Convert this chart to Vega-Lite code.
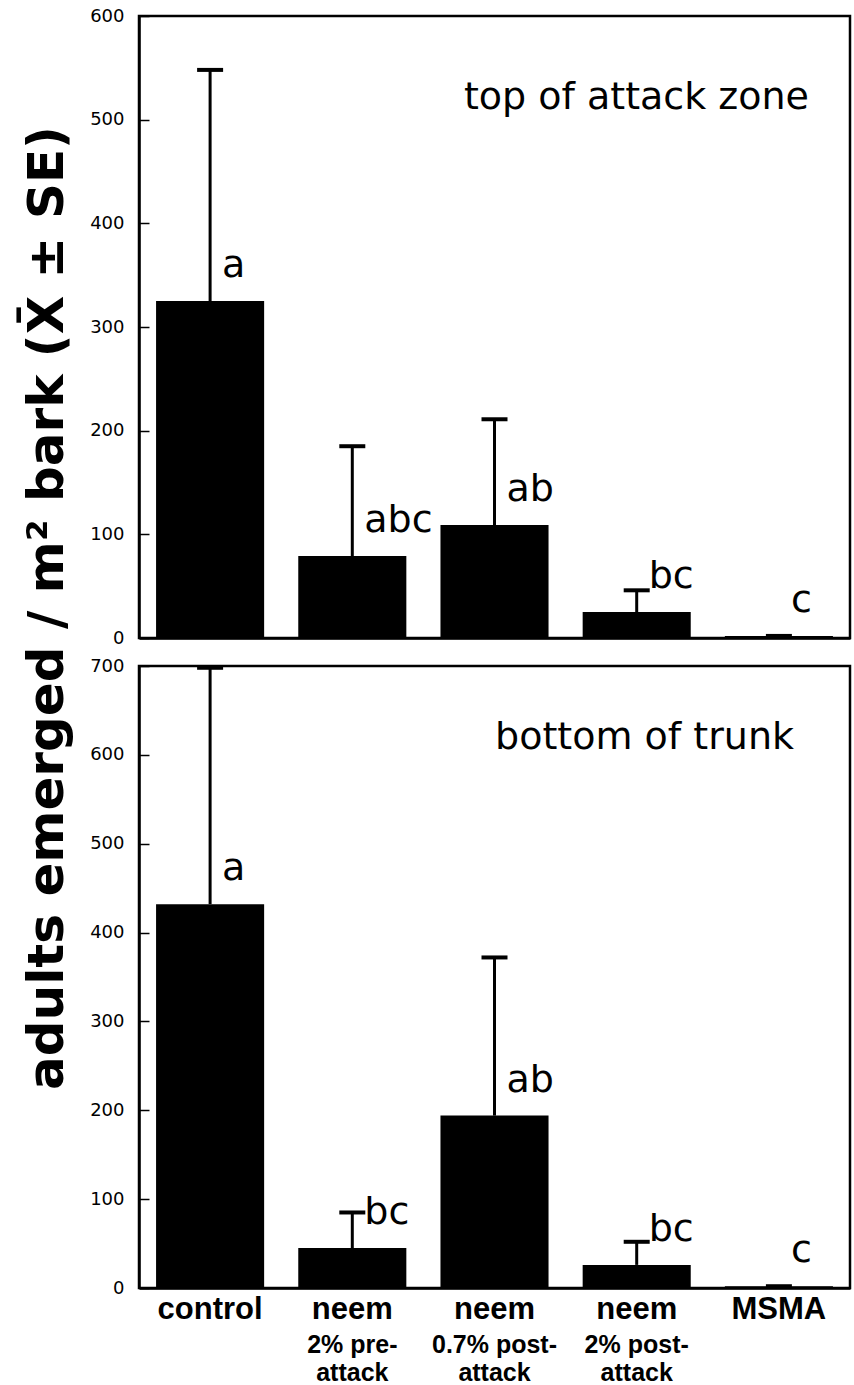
{
  "$schema": "https://vega.github.io/schema/vega-lite/v6.json",
  "background": "white",
  "padding": {"left": 23, "top": 5, "right": 3, "bottom": 0},
  "config": {
    "view": {"stroke": "black", "strokeWidth": 2.5},
    "axis": {"labelFont": "DejaVu Sans", "labelColor": "black", "domainColor": "black", "tickColor": "black", "grid": false},
    "font": "DejaVu Sans"
  },
  "title": {"text": "adults emerged / m² bark (X̄ ± SE)", "orient": "left", "anchor": "middle", "fontSize": 50, "font": "DejaVu Sans", "fontWeight": "bold", "color": "black", "offset": 15, "dx": 88},
  "datasets": {
    "top": [
      {"treatment": "control", "mean": 325, "upper": 548, "letter": "a"},
      {"treatment": "neem 2% pre-attack", "mean": 79, "upper": 185, "letter": "abc"},
      {"treatment": "neem 0.7% post-attack", "mean": 109, "upper": 211, "letter": "ab"},
      {"treatment": "neem 2% post-attack", "mean": 25, "upper": 46, "letter": "bc"},
      {"treatment": "MSMA", "mean": 2, "upper": 2, "letter": "c"}
    ],
    "bottom": [
      {"treatment": "control", "mean": 432, "upper": 698, "letter": "a"},
      {"treatment": "neem 2% pre-attack", "mean": 45, "upper": 85, "letter": "bc"},
      {"treatment": "neem 0.7% post-attack", "mean": 194, "upper": 372, "letter": "ab"},
      {"treatment": "neem 2% post-attack", "mean": 26, "upper": 52, "letter": "bc"},
      {"treatment": "MSMA", "mean": 2, "upper": 2, "letter": "c"}
    ]
  },
  "spacing": 6,
  "vconcat": [
    {
      "width": 711,
      "height": 622,
      "data": {"name": "top"},
      "title": {"text": "top of attack zone", "anchor": "end", "frame": "group", "baseline": "middle", "offset": -129, "dx": -41, "fontSize": 38, "fontWeight": "normal", "font": "DejaVu Sans", "color": "black"},
      "encoding": {
        "x": {"field": "treatment", "type": "nominal", "sort": null, "scale": {"paddingInner": 0.24, "paddingOuter": 0.12}, "axis": {"labels": false, "ticks": false, "title": null, "domainWidth": 2.5}}
      },
      "layer": [
        {"mark": {"type": "bar", "color": "black"},
         "encoding": {"y": {"field": "mean", "type": "quantitative", "scale": {"domain": [0, 600], "nice": false},
           "axis": {"values": [0, 100, 200, 300, 400, 500, 600], "tickSize": -10, "tickWidth": 1.5, "labelPadding": 25, "labelFontSize": 18, "title": null, "domainWidth": 2.5}}}},
        {"mark": {"type": "rule", "strokeWidth": 3, "color": "black"},
         "encoding": {"y": {"field": "mean", "type": "quantitative"}, "y2": {"field": "upper"}}},
        {"mark": {"type": "tick", "color": "black", "opacity": 1, "size": 26, "thickness": 4},
         "encoding": {"y": {"field": "upper", "type": "quantitative"}}},
        {"mark": {"type": "text", "align": "left", "baseline": "middle", "dx": 12, "dy": -35, "fontSize": 38, "color": "black"},
         "encoding": {"y": {"field": "mean", "type": "quantitative"}, "text": {"field": "letter"}}}
      ]
    },
    {
      "width": 711,
      "height": 622,
      "data": {"name": "bottom"},
      "title": {"text": "bottom of trunk", "anchor": "end", "frame": "group", "baseline": "middle", "offset": -119, "dx": -56, "fontSize": 38, "fontWeight": "normal", "font": "DejaVu Sans", "color": "black"},
      "resolve": {"axis": {"x": "independent"}},
      "layer": [
        {"mark": {"type": "bar", "color": "black"},
         "encoding": {
           "x": {"field": "treatment", "type": "nominal", "sort": null, "scale": {"paddingInner": 0.24, "paddingOuter": 0.12},
             "axis": {"orient": "bottom", "labelExpr": "split(datum.value, ' ')[0]", "labelFont": "Liberation Sans", "labelFontWeight": "bold", "labelFontSize": 31, "ticks": false, "labelPadding": 6, "labelAngle": 0, "title": null, "domainWidth": 2.5}},
           "y": {"field": "mean", "type": "quantitative", "scale": {"domain": [0, 700], "nice": false},
             "axis": {"values": [0, 100, 200, 300, 400, 500, 600, 700], "tickSize": -10, "tickWidth": 1.5, "labelPadding": 25, "labelFontSize": 18, "title": null, "domainWidth": 2.5}}}},
        {"mark": {"type": "rule", "strokeWidth": 3, "color": "black"},
         "encoding": {
           "x": {"field": "treatment", "type": "nominal", "sort": null, "axis": null},
           "y": {"field": "mean", "type": "quantitative"}, "y2": {"field": "upper"}}},
        {"mark": {"type": "tick", "color": "black", "opacity": 1, "size": 26, "thickness": 4},
         "encoding": {
           "x": {"field": "treatment", "type": "nominal", "sort": null,
             "axis": {"orient": "bottom", "offset": 42, "domain": false, "ticks": false, "labelPadding": 2, "labelAngle": 0, "title": null, "labelFont": "Liberation Sans", "labelFontWeight": "bold", "labelFontSize": 25, "labelLineHeight": 28, "labelBaseline": "top",
               "labelExpr": "datum.value == 'neem 2% pre-attack' ? ['2% pre-', 'attack'] : datum.value == 'neem 0.7% post-attack' ? ['0.7% post-', 'attack'] : datum.value == 'neem 2% post-attack' ? ['2% post-', 'attack'] : ''"}},
           "y": {"field": "upper", "type": "quantitative"}}},
        {"mark": {"type": "text", "align": "left", "baseline": "middle", "dx": 12, "dy": -35, "fontSize": 38, "color": "black"},
         "encoding": {
           "x": {"field": "treatment", "type": "nominal", "sort": null, "axis": null},
           "y": {"field": "mean", "type": "quantitative"}, "text": {"field": "letter"}}}
      ]
    }
  ]
}
